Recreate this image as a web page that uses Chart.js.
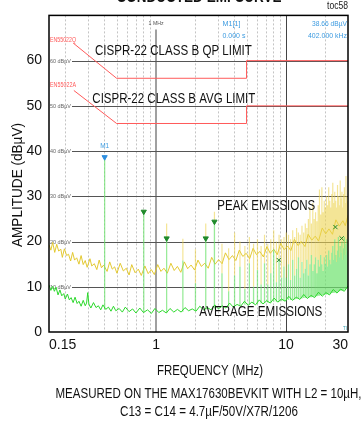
<!DOCTYPE html>
<html>
<head>
<meta charset="UTF-8">
<title>Conducted EMI curve</title>
<script src="https://cdn.jsdelivr.net/npm/chart.js@4"></script>
<style>
  body { margin: 0; background: #fff; }
  canvas { display: block; }
</style>
</head>
<body>
<canvas id="emi" width="362" height="422"></canvas>
<script>
// axis ticks
const xTickValues = [0.15, 1, 10, 30];
const xTickLabels = ['0.15', '1', '10', '30'];
const yTickValues = [0, 10, 20, 30, 40, 50, 60];
const yTickLabels = ['0', '10', '20', '30', '40', '50', '60'];
const minorGridMHz = [0.2, 0.3, 0.4, 0.5, 0.6, 0.7, 0.8, 0.9, 2, 3, 4, 5, 6, 7, 8, 9, 20];

// EN55022 class B limit lines (dBuV)
const qpLimitMHz = [0.23, 0.497, 4.97, 4.97, 30];
const qpLimitDb = [63.9, 56.1, 56.1, 60, 60];
const avgLimitMHz = [0.233, 0.497, 4.97, 4.97, 30];
const avgLimitDb = [53.4, 46.1, 46.1, 50, 50];

// peak detector trace, noise floor
const peakMHz = [
  0.15, 0.155, 0.16, 0.166, 0.172, 0.178, 0.185, 0.19, 0.197, 0.205,
  0.212, 0.22, 0.228, 0.236, 0.245, 0.255, 0.265, 0.275, 0.285, 0.295,
  0.31, 0.32, 0.335, 0.35, 0.365, 0.38, 0.395, 0.42, 0.44, 0.46,
  0.48, 0.5, 0.53, 0.56, 0.59, 0.62, 0.65, 0.69, 0.73, 0.77,
  0.82, 0.87, 0.92, 0.97, 1.03, 1.09, 1.15, 1.22, 1.3, 1.38,
  1.46, 1.55, 1.65, 1.75, 1.86, 1.98, 2.1, 2.23, 2.37, 2.52,
  2.68, 2.85, 3.03, 3.22, 3.42, 3.64, 3.87, 4.11, 4.37, 4.65,
  4.94, 5.25, 5.58, 5.93, 6.3, 6.7, 7.12, 7.57, 8.05, 8.56,
  9.1, 9.67, 10.3, 10.9, 11.6, 12.4, 13.1, 14.0, 14.8, 15.8,
  16.8, 17.8, 19.0, 20.2, 21.4, 22.8, 24.2, 25.7, 27.4, 28.6,
  30
];
const peakDb = [
  19.3, 18.1, 19.8, 17.6, 19.4, 17.9, 18.3, 16.5, 18.4, 16.9,
  17.2, 15.7, 17.6, 15.9, 16.4, 15.0, 16.9, 14.9, 15.8, 14.3,
  16.2, 14.6, 15.1, 13.8, 15.9, 14.2, 14.8, 13.4, 15.5, 13.9,
  14.4, 13.0, 15.2, 13.5, 14.1, 12.6, 14.9, 13.1, 13.9, 12.5,
  14.6, 12.9, 13.8, 12.7, 14.9, 13.4, 14.1, 13.0, 15.2, 13.6,
  14.5, 13.2, 15.5, 14.0, 14.8, 13.7, 15.9, 14.5, 15.2, 14.1,
  16.5, 15.0, 16.0, 15.1, 17.5, 16.0, 16.9, 15.8, 18.1, 16.7,
  17.4, 16.2, 18.5, 17.1, 17.8, 16.6, 18.9, 17.4, 18.3, 17.1,
  19.6, 18.2, 19.0, 18.0, 20.5, 19.1, 20.0, 18.9, 21.6, 20.3,
  21.2, 20.1, 23.0, 21.7, 22.8, 21.6, 24.8, 23.4, 24.6, 23.5,
  25.8
];

// average detector trace, noise floor
const avgMHz = [
  0.15, 0.155, 0.16, 0.165, 0.17, 0.176, 0.182, 0.188, 0.195, 0.2,
  0.208, 0.215, 0.222, 0.23, 0.238, 0.247, 0.255, 0.265, 0.275, 0.285,
  0.292, 0.298, 0.304, 0.315, 0.33, 0.345, 0.36, 0.375, 0.39, 0.41,
  0.43, 0.45, 0.47, 0.49, 0.52, 0.55, 0.58, 0.62, 0.66, 0.7,
  0.75, 0.8, 0.86, 0.92, 0.98, 1.05, 1.12, 1.2, 1.28, 1.37,
  1.46, 1.56, 1.67, 1.78, 1.9, 2.03, 2.17, 2.32, 2.48, 2.65,
  2.83, 3.02, 3.23, 3.45, 3.68, 3.93, 4.2, 4.48, 4.79, 5.11,
  5.46, 5.83, 6.23, 6.65, 7.1, 7.58, 8.1, 8.65, 9.23, 9.86,
  10.5, 11.2, 12.0, 12.8, 13.7, 14.6, 15.6, 16.6, 17.8, 19.0,
  20.3, 21.6, 23.1, 24.7, 26.3, 28.1, 30
];
const avgDb = [
  10.4, 9.2, 10.1, 9.0, 9.9, 8.2, 9.3, 8.0, 8.5, 7.3,
  8.4, 7.1, 7.6, 6.5, 7.7, 6.3, 6.8, 5.7, 7.0, 5.8,
  6.4, 8.7, 6.2, 5.3, 6.5, 5.4, 5.8, 4.9, 6.0, 5.0,
  5.5, 4.6, 5.7, 4.7, 5.2, 4.4, 5.5, 4.5, 5.1, 4.2,
  5.3, 4.3, 4.9, 4.1, 5.2, 4.3, 4.8, 4.2, 5.2, 4.4,
  5.0, 4.4, 5.4, 4.7, 5.1, 4.6, 5.7, 4.9, 5.4, 4.9,
  6.0, 5.1, 5.8, 5.3, 6.4, 5.5, 6.1, 5.7, 6.8, 5.9,
  6.6, 6.0, 7.1, 6.2, 6.9, 6.4, 7.5, 6.6, 7.3, 6.8,
  7.9, 7.0, 7.7, 7.2, 8.3, 7.4, 8.1, 7.6, 8.8, 7.9,
  8.7, 8.2, 9.4, 8.6, 9.5, 9.0, 10.2
];

// switching harmonics (402kHz) seen by both detectors
const harmonicMHz = [
  0.402, 0.804, 1.206, 1.608, 2.01, 2.412, 2.814, 3.216, 3.618, 4.02,
  4.422, 4.824, 5.226, 5.628, 6.03, 6.432, 6.834, 7.236, 7.638, 8.04,
  8.442, 8.844, 9.246, 9.648, 10.05, 10.45, 10.85, 11.26, 11.66, 12.06,
  12.46, 12.86, 13.27, 13.67, 14.07, 14.47, 14.87, 15.28, 15.68, 16.08,
  16.48, 16.88, 17.29, 17.69, 18.09, 18.49, 18.89, 19.3, 19.7, 20.1,
  20.5, 20.9, 21.31, 21.71, 22.11, 22.51, 22.91, 23.32, 23.72, 24.12,
  24.52, 24.92, 25.33, 25.73, 26.13, 26.53, 26.93, 27.34, 27.74, 28.14,
  28.54, 28.94, 29.35, 29.75
];
const avgSpikeBase = [
  5.0, 4.3, 4.3, 4.5, 4.7, 4.9, 5.2, 5.4, 5.6, 5.7,
  5.8, 6.0, 6.1, 6.2, 6.2, 6.3, 6.4, 6.5, 6.6, 6.7,
  6.7, 6.8, 6.8, 6.9, 7.0, 7.1, 7.1, 7.2, 7.2, 7.3,
  7.3, 7.4, 7.4, 7.5, 7.5, 7.6, 7.6, 7.7, 7.7, 7.8,
  7.8, 7.9, 7.9, 8.0, 8.0, 8.1, 8.1, 8.2, 8.2, 8.3,
  8.3, 8.4, 8.4, 8.5, 8.5, 8.6, 8.6, 8.7, 8.7, 8.8,
  8.8, 8.9, 8.9, 9.0, 9.1, 9.1, 9.2, 9.2, 9.3, 9.4,
  9.4, 9.5, 9.6, 9.7
];
const avgSpikeTop = [
  38.66, 26.6, 20.7, 15.8, 10.8, 20.7, 24.4, 13.0, 9.0, 12.5,
  14.4, 9.5, 15.2, 10.0, 13.7, 10.5, 15.2, 10.5, 13.0, 18.3,
  11.0, 16.0, 12.0, 14.5, 12.0, 15.0, 11.5, 16.0, 12.5, 14.0,
  16.5, 12.0, 15.5, 13.0, 14.0, 16.0, 12.5, 15.0, 17.0, 13.5,
  15.0, 16.5, 13.0, 16.0, 14.5, 17.0, 15.0, 13.5, 16.5, 15.0,
  17.0, 14.5, 18.0, 16.0, 15.0, 17.5, 19.0, 16.0, 20.5, 17.0,
  15.5, 18.0, 21.0, 16.5, 19.0, 17.5, 20.0, 16.0, 18.5, 21.0,
  17.0, 19.5, 20.5, 18.0
];
const peakSpikeTop = [
  38.66, 27.0, 24.0, 20.6, 18.3, 24.0, 26.6, 19.5, 18.5, 22.0,
  20.0, 19.0, 21.0, 19.5, 20.5, 19.0, 21.5, 19.5, 20.5, 22.5,
  20.0, 21.5, 20.5, 21.0, 22.0, 21.5, 20.5, 22.5, 21.0, 23.0,
  22.0, 21.5, 23.5, 22.0, 24.0, 23.0, 25.0, 27.5, 24.0, 28.5,
  25.0, 26.5, 24.5, 28.0, 31.5, 26.0, 32.0, 26.5, 29.0, 27.5,
  30.0, 28.0, 32.0, 29.0, 27.5, 30.5, 33.0, 28.5, 31.0, 29.0,
  27.5, 32.5, 30.0, 28.0, 33.5, 29.5, 31.0, 27.5, 30.5, 32.0,
  28.5, 34.5, 30.0, 29.0
];

// analyzer markers
const m1MHz = [0.402];
const m1Db = [38.66];
const markMHz = [0.804, 1.206, 2.412, 2.814];
const markDb = [26.6, 20.7, 20.7, 24.4];
const crossMHz = [8.8, 24.0, 26.8];
const crossDb = [15.9, 23.2, 20.7];

const SANS = '"Liberation Sans", Arial, sans-serif';

const pts = (xs, ys) => xs.map((x, i) => ({ x: x, y: ys[i] }));
const spikes = (xs, lo, hi) => {
  const out = [];
  xs.forEach((x, i) => { out.push({ x: x, y: lo[i] }, { x: x, y: hi[i] }, { x: x, y: null }); });
  return out;
};

// text squeezed to a given width to mimic the narrow face of the original
function label(ctx, str, px, py, size, color, align, width, weight) {
  ctx.save();
  ctx.font = (weight || '') + ' ' + size + 'px ' + SANS;
  ctx.fillStyle = color;
  ctx.textAlign = align || 'center';
  ctx.textBaseline = 'middle';
  const sx = width ? width / ctx.measureText(str).width : 1;
  ctx.translate(px, py);
  ctx.scale(sx, 1);
  ctx.fillText(str, 0, 0);
  ctx.restore();
}

const decor = {
  id: 'decor',
  beforeDatasetsDraw(chart) {
    const { ctx, chartArea: a, scales: { x, y } } = chart;
    ctx.save();
    ctx.lineWidth = 1;
    ctx.strokeStyle = '#c4c4c4';
    ctx.setLineDash([2, 2]);
    minorGridMHz.forEach(f => {
      const px = Math.round(x.getPixelForValue(f)) + 0.5;
      ctx.beginPath(); ctx.moveTo(px, a.top); ctx.lineTo(px, a.bottom); ctx.stroke();
    });
    ctx.setLineDash([]);
    let px = Math.round(x.getPixelForValue(1));
    ctx.strokeStyle = '#a0a0a0'; ctx.lineWidth = 2;
    ctx.beginPath(); ctx.moveTo(px, a.top + 14); ctx.lineTo(px, a.bottom); ctx.stroke();
    px = Math.round(x.getPixelForValue(10)) + 0.5;
    ctx.strokeStyle = '#444'; ctx.lineWidth = 1;
    ctx.beginPath(); ctx.moveTo(px, a.top); ctx.lineTo(px, a.bottom); ctx.stroke();

    yTickValues.slice(1).forEach(v => {
      const py = Math.round(y.getPixelForValue(v)) + 0.5;
      ctx.strokeStyle = '#555';
      ctx.beginPath(); ctx.moveTo(a.left + 23, py); ctx.lineTo(a.right, py); ctx.stroke();
      label(ctx, v + ' dBµV', a.left + 1, py, 6, '#666', 'left', 21);
    });
    ctx.restore();
  },
  afterDatasetsDraw(chart) {
    const { ctx, chartArea: a, scales: { x, y } } = chart;
    const at = (f, v) => [x.getPixelForValue(f), y.getPixelForValue(v)];
    label(ctx, 'CISPR-22 CLASS B QP LIMIT', ...at(1.36, 62.1), 15, '#111', 'center', 157);
    label(ctx, 'CISPR-22 CLASS B AVG LIMIT', ...at(1.37, 51.6), 15, '#111', 'center', 163);
    label(ctx, 'PEAK EMISSIONS', ...at(7.05, 27.9), 15, '#111', 'center', 98);
    label(ctx, 'AVERAGE EMISSIONS', ...at(6.4, 4.4), 15, '#111', 'center', 123);

    const red = '#ff5a5a', blue = '#3d9be0';
    label(ctx, 'EN55022Q', a.left + 1, y.getPixelForValue(64.5), 7, red, 'left', 26);
    label(ctx, 'EN55022A', a.left + 1, y.getPixelForValue(54.6), 7, red, 'left', 26);
    label(ctx, '1 MHz', ...at(1, 68.2), 6, '#555', 'center', 15);
    label(ctx, 'M1[1]', ...at(3.24, 68.2), 8, blue, 'left', 18);
    label(ctx, '0.000 s', ...at(3.24, 65.6), 8, blue, 'left', 23);
    label(ctx, '38.66 dBµV', a.right - 1, y.getPixelForValue(68.2), 8, blue, 'right', 35);
    label(ctx, '402.000 kHz', a.right - 1, y.getPixelForValue(65.6), 8, blue, 'right', 39);
    label(ctx, 'M1', ...at(m1MHz[0], 41.1), 7, blue, 'center', 9);
    label(ctx, 'TI', a.right - 1, y.getPixelForValue(0.9), 6, '#3aa0b0', 'right', 4);

    ctx.save();
    ctx.strokeStyle = '#000';
    ctx.lineWidth = 1.5;
    ctx.strokeRect(a.left, a.top, a.right - a.left, a.bottom - a.top);
    ctx.restore();
  },
  afterDraw(chart) {
    const { ctx, chartArea: a } = chart;
    label(ctx, 'CONDUCTED EMI CURVE', 199, -3, 17, '#111', 'center', 165, 'bold');
    label(ctx, 'toc58', a.right, 6, 10, '#222', 'right', 21);
    ctx.save();
    ctx.translate(17.5, 185);
    ctx.rotate(-Math.PI / 2);
    label(ctx, 'AMPLITUDE (dBµV)', 0, 0, 15, '#111', 'center', 124);
    ctx.restore();
    label(ctx, 'FREQUENCY (MHz)', 210, 371, 15, '#111', 'center', 106);
    label(ctx, 'MEASURED ON THE MAX17630BEVKIT WITH L2 = 10µH,', 208.5, 394, 14, '#111', 'center', 306);
    label(ctx, 'C13 = C14 = 4.7µF/50V/X7R/1206', 209, 412, 14, '#111', 'center', 178);
  }
};

const line = (data, color, width, order) => ({
  data: data, borderColor: color, borderWidth: width, pointRadius: 0,
  fill: false, tension: 0, spanGaps: false, order: order
});
const marks = (data, color, style, rot, order) => ({
  data: data, showLine: false, pointStyle: style, rotation: rot,
  pointRadius: 3, pointBackgroundColor: color, pointBorderColor: color,
  pointBorderWidth: 1, order: order
});

new Chart(document.getElementById('emi'), {
  type: 'line',
  data: {
    datasets: [
      line(pts(peakMHz, peakDb), 'rgba(226,198,40,0.95)', 1, 9),
      line(spikes(harmonicMHz, avgSpikeTop, peakSpikeTop), 'rgba(236,212,80,0.6)', 1.2, 8),
      line(spikes(harmonicMHz, avgSpikeBase, avgSpikeTop), 'rgba(110,226,110,0.7)', 1.3, 7),
      line(pts(avgMHz, avgDb), '#2cd82c', 1, 6),
      line(pts(qpLimitMHz, qpLimitDb), '#ff5a5a', 1, 5),
      line(pts(avgLimitMHz, avgLimitDb), '#ff5a5a', 1, 4),
      marks(pts(markMHz, markDb), '#1f8a2a', 'triangle', 180, 3),
      marks(pts(crossMHz, crossDb), '#1f8a2a', 'crossRot', 0, 2),
      marks(pts(m1MHz, m1Db), '#2f8fe0', 'triangle', 180, 1)
    ]
  },
  options: {
    responsive: false,
    animation: false,
    devicePixelRatio: 1,
    layout: { padding: { left: 0, right: 14, top: 13, bottom: 0 } },
    plugins: { legend: { display: false }, tooltip: { enabled: false } },
    scales: {
      x: {
        type: 'logarithmic', min: 0.15, max: 30,
        afterBuildTicks: s => { s.ticks = xTickValues.map(v => ({ value: v })); },
        afterFit: s => { s.height = 90; },
        grid: { display: false, drawTicks: false },
        border: { display: false },
        ticks: {
          autoSkip: false, maxRotation: 0, minRotation: 0, align: 'inner', padding: 5,
          color: '#111', font: { family: SANS, size: 14 },
          callback: (v, i) => xTickLabels[i]
        }
      },
      y: {
        min: 0, max: 70,
        afterBuildTicks: s => { s.ticks = yTickValues.map(v => ({ value: v })); },
        afterFit: s => { s.width = 49; },
        grid: { display: false, drawTicks: false },
        border: { display: false },
        ticks: {
          padding: 7, color: '#111', font: { family: SANS, size: 14 },
          callback: (v, i) => yTickLabels[i]
        }
      }
    }
  },
  plugins: [decor]
});
</script>
</body>
</html>
